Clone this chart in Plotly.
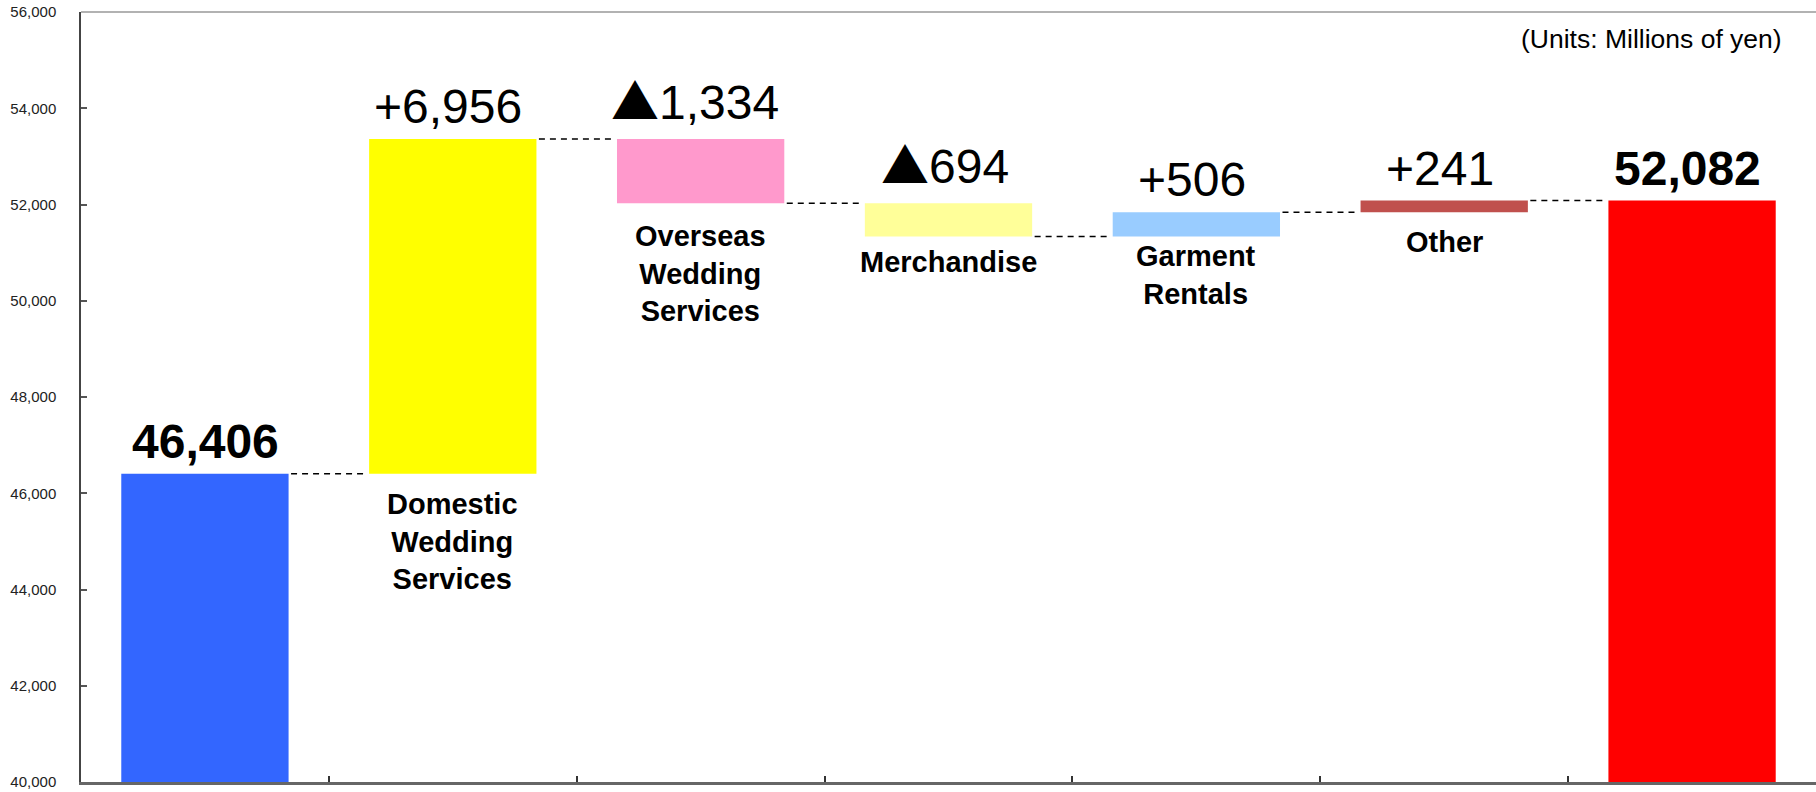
import plotly.graph_objects as go

# ---- data ----
categories = ["FY start", "Domestic<br>Wedding<br>Services", "Overseas<br>Wedding<br>Services",
              "Merchandise", "Garment<br>Rentals", "Other", "FY end"]
show_category = [False, True, True, True, True, True, False]
values = [46406, 6956, -1334, -694, 506, 241, 52082]
measures = ["total", "relative", "relative", "relative", "relative", "relative", "total"]
colors = ["#3366FF", "#FFFF00", "#FF99CC", "#FFFF99", "#99CCFF", "#C0504D", "#FF0000"]
y_min, y_max, y_step = 40000, 56000, 2000
unit_note = "(Units: Millions of yen)"

# label pixel offsets (style)
cat_label_shift = [0, -12, -15, -7, -1, -12, 0]
val_label_xshift = [1, -5, -6, -4, -4, -4, -5]

# ---- derived geometry from data ----
BAR_W = 0.675
bases, heights, levels = [], [], []
running = 0
for v, m in zip(values, measures):
    if m == "total":
        bases.append(y_min)
        heights.append(v - y_min)
        running = v
    else:
        start = running
        running = running + v
        bases.append(min(start, running))
        heights.append(abs(v))
    levels.append(running)

xs = list(range(len(values)))
tops = [b + h for b, h in zip(bases, heights)]

TRI = "<span style=\"font-family:'Noto Sans CJK JP'\">▲</span>"

def fmt(v, m):
    if m == "total":
        return f"<b>{v:,}</b>"
    return f"+{v:,}" if v >= 0 else f"{TRI}{abs(v):,}"

FONT = "Liberation Sans, Arial, sans-serif"

fig = go.Figure()
fig.add_trace(go.Bar(
    x=xs, y=heights, base=bases, width=BAR_W,
    marker=dict(color=colors, line=dict(width=0)),
    hoverinfo="skip", showlegend=False,
))

# connectors
gap = 0.01
for i in range(len(values) - 1):
    fig.add_trace(go.Scatter(
        x=[i + BAR_W / 2 + gap, i + 1 - BAR_W / 2 - gap],
        y=[levels[i], levels[i]],
        mode="lines",
        line=dict(color="#000000", width=1.5, dash="6px,5px"),
        hoverinfo="skip", showlegend=False,
    ))

annotations = []
for i, (v, m) in enumerate(zip(values, measures)):
    annotations.append(dict(
        x=xs[i], y=tops[i], xref="x", yref="y",
        text=fmt(v, m), showarrow=False, yanchor="bottom", xanchor="center",
        yshift=4, xshift=val_label_xshift[i], font=dict(family=FONT, size=48, color="#000000"),
    ))
    if show_category[i]:
        annotations.append(dict(
            x=xs[i], y=bases[i], xref="x", yref="y",
            text=f"<b>{categories[i]}</b>", showarrow=False, yanchor="top", xanchor="center",
            yshift=cat_label_shift[i], font=dict(family=FONT, size=29, color="#000000"),
        ))
annotations.append(dict(
    x=0.9815, y=0.965, xref="paper", yref="paper", text=unit_note, showarrow=False,
    xanchor="right", yanchor="middle", font=dict(family=FONT, size=26.5, color="#000000"),
))

fig.update_layout(
    width=1816, height=792,
    margin=dict(l=81, r=0, t=12, b=10),
    paper_bgcolor="white", plot_bgcolor="white",
    annotations=annotations,
    shapes=[dict(type="line", xref="paper", yref="paper", x0=0, x1=1, y0=1, y1=1,
                 line=dict(color="#999999", width=1.5))],
    xaxis=dict(
        range=[-0.5, len(values) - 0.5],
        tickvals=[i + 0.5 for i in range(len(values) - 1)],
        showticklabels=False, ticks="inside", ticklen=6, tickcolor="#333333", tickwidth=1.5,
        showline=True, linecolor="#666666", linewidth=2.5, showgrid=False, zeroline=False,
        fixedrange=True,
    ),
    yaxis=dict(
        range=[y_min, y_max], dtick=y_step, tick0=y_min, tickformat=",",
        ticks="inside", ticklen=6, tickcolor="#555555", tickwidth=1.5,
        showline=True, linecolor="#444444", linewidth=1.5, showgrid=False, zeroline=False,
        tickfont=dict(family=FONT, size=15, color="#222222"), ticklabelstandoff=20,
        fixedrange=True,
    ),
)

fig.write_html("out.html")
